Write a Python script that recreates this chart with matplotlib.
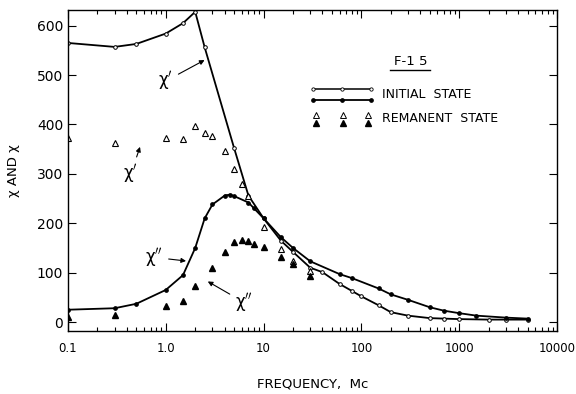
import matplotlib
matplotlib.use("Agg")
import matplotlib.pyplot as plt
from matplotlib.ticker import FixedLocator, LogLocator, NullFormatter

# initial state, chi' (open circles)
freq_init_real = [0.1, 0.3, 0.5, 1.0, 1.5, 2.0, 2.5, 5.0, 7.0, 10, 15, 20, 30, 40,
                  60, 80, 100, 150, 200, 300, 500, 700, 1000, 2000, 3000, 5000]
chi1_init = [565, 557, 563, 584, 605, 628, 556, 352, 256, 210, 165, 142, 110, 101,
             77, 63, 52, 34, 20, 13, 8, 7, 6, 5, 5, 5]

# initial state, chi'' (filled dots)
freq_init_imag = [0.1, 0.3, 0.5, 1.0, 1.5, 2.0, 2.5, 3.0, 4.0, 4.5, 5.0, 7.0, 8.0, 10,
                  15, 20, 30, 60, 80, 150, 200, 300, 500, 700, 1000, 1500, 3000, 5000]
chi2_init = [25, 28, 37, 65, 95, 150, 210, 238, 256, 258, 255, 242, 230, 210,
             172, 150, 123, 97, 89, 68, 56, 45, 30, 23, 18, 13, 9, 7]

# remanent state
freq_rem_real = [0.1, 0.3, 1.0, 1.5, 2.0, 2.5, 3.0, 4.0, 5.0, 6.0, 7.0, 10, 15, 20, 30]
chi1_rem = [372, 363, 373, 370, 397, 382, 376, 346, 309, 280, 255, 193, 147, 124, 104]
freq_rem_imag = [0.1, 0.3, 1.0, 1.5, 2.0, 3.0, 4.0, 5.0, 6.0, 7.0, 8.0, 10, 15, 20, 30]
chi2_rem = [11, 14, 33, 43, 73, 110, 141, 162, 166, 164, 159, 151, 131, 117, 94]

xticks = [0.1, 1, 10, 100, 1000, 10000]
xticklabels = ["0.1", "1.0", "10", "100", "1000", "10000"]
yticks = [0, 100, 200, 300, 400, 500, 600]

plt.rcParams['font.family'] = ['DejaVu Sans']

fig = plt.figure(figsize=(5.76, 3.94), dpi=100)
ax = fig.add_axes([0.118, 0.160, 0.849, 0.815])

ax.plot(freq_init_real, chi1_init, color='black', lw=1.3, marker='o', ms=2.6,
        mfc='white', mec='black', mew=0.7)
ax.plot(freq_init_imag, chi2_init, color='black', lw=1.3, marker='o', ms=2.4,
        mfc='black', mec='black')
ax.plot(freq_rem_real, chi1_rem, ls='none', marker='^', ms=4.5, mfc='white',
        mec='black', mew=0.8)
ax.plot(freq_rem_imag, chi2_rem, ls='none', marker='^', ms=4.5, mfc='black',
        mec='black')

ax.set_xscale('log')
ax.set_xlim(0.1, 10000)
ax.set_ylim(-18, 632)

ax.xaxis.set_major_locator(FixedLocator(xticks))
ax.set_xticklabels(xticklabels)
ax.xaxis.set_minor_locator(LogLocator(base=10, subs=range(2, 10), numticks=20))
ax.xaxis.set_minor_formatter(NullFormatter())
ax.set_yticks(yticks)

ax.tick_params(which='both', direction='in', top=True, right=True, labelsize=10,
               width=0.8)
ax.tick_params(which='major', length=6)
ax.tick_params(which='minor', length=3)
ax.tick_params(axis='x', pad=8, labelsize=8.5)
for s in ax.spines.values():
    s.set_linewidth(1.0)

ax.set_xlabel("FREQUENCY,  Mc", fontsize=9.5, labelpad=16)
ax.set_ylabel("χ AND χ", fontsize=9.5, labelpad=12)

# curve labels
arrow = dict(arrowstyle='-|>', color='black', lw=0.8, mutation_scale=7)
ax.annotate("χ$'$", xy=(2.64, 533), xytext=(1.0, 488), fontsize=12,
            ha='center', va='center', arrowprops=arrow)
ax.annotate("χ$'$", xy=(0.557, 360), xytext=(0.44, 300), fontsize=12,
            ha='center', va='center', arrowprops=arrow)
ax.annotate("χ$''$", xy=(1.72, 123), xytext=(0.76, 131), fontsize=12,
            ha='center', va='center', arrowprops=arrow)
ax.annotate("χ$''$", xy=(2.54, 85), xytext=(6.3, 40), fontsize=12,
            ha='center', va='center', arrowprops=arrow)

# hand-drawn style key
tr = ax.transAxes
ax.text(0.700, 0.840, "F-1 5", transform=tr, fontsize=9.5, ha='center', va='center')
ax.plot([0.659, 0.740], [0.812, 0.812], transform=tr, color='black', lw=1.0)
ax.plot([0.501, 0.560, 0.619], [0.754, 0.754, 0.754], transform=tr, color='black',
        lw=1.1, marker='o', ms=2.4, mfc='white', mew=0.6)
ax.plot([0.501, 0.560, 0.619], [0.720, 0.720, 0.720], transform=tr, color='black',
        lw=1.3, marker='o', ms=2.4)
ax.plot([0.507, 0.562, 0.613], [0.673, 0.673, 0.673], transform=tr, ls='none',
        marker='^', ms=4, mfc='white', mec='black', mew=0.7)
ax.plot([0.507, 0.562, 0.613], [0.648, 0.648, 0.648], transform=tr, ls='none',
        marker='^', ms=4, color='black')
ax.text(0.643, 0.737, "INITIAL  STATE", transform=tr, fontsize=9, va='center')
ax.text(0.643, 0.662, "REMANENT  STATE", transform=tr, fontsize=9, va='center')

fig.savefig("out.png", dpi=100)
